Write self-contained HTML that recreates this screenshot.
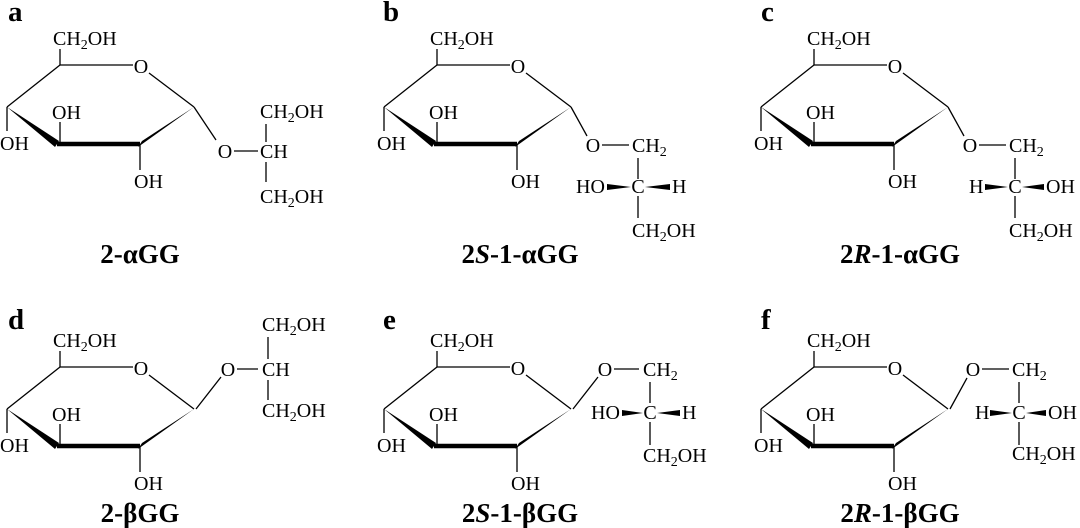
<!DOCTYPE html>
<html><head><meta charset="utf-8"><style>
html,body{margin:0;padding:0;background:#fff;}
svg{display:block;}
text{font-family:"Liberation Serif",serif;font-size:20px;fill:#000;}
.b{font-weight:bold;font-size:29px;}
.n{font-weight:bold;font-size:27px;}
line{stroke:#000;stroke-width:1.3;}
</style></head><body>
<svg width="1080" height="528" viewBox="0 0 1080 528" xmlns="http://www.w3.org/2000/svg">
<defs>
<g id="ring">
  <text x="53" y="45">CH<tspan font-size="14" dy="4">2</tspan><tspan dy="-4">OH</tspan></text>
  <line x1="60" y1="49" x2="60" y2="65"/>
  <line x1="60" y1="65" x2="133" y2="65"/>
  <text x="141" y="73" text-anchor="middle">O</text>
  <line x1="149" y1="73" x2="194" y2="107"/>
  <line x1="60" y1="65" x2="7" y2="107"/>
  <line x1="7" y1="107" x2="7" y2="131"/>
  <text x="0" y="150">OH</text>
  <polygon points="7,107 55,147 59,141"/>
  <line x1="57" y1="144" x2="140" y2="144" style="stroke-width:4.5"/>
  <line x1="60" y1="144" x2="60" y2="122"/>
  <text x="52" y="119">OH</text>
  <polygon points="138,147 142,141 194,107"/>
  <line x1="140" y1="144" x2="140" y2="170"/>
  <text x="134" y="188">OH</text>
</g>
</defs>
<text class="b" x="8" y="21">a</text>
<text class="b" x="383" y="21">b</text>
<text class="b" x="761" y="21">c</text>
<text class="b" x="8" y="329">d</text>
<text class="b" x="383" y="329">e</text>
<text class="b" x="761" y="329">f</text>
<text class="n" x="140" y="263" text-anchor="middle">2-αGG</text>
<text class="n" x="520" y="263" text-anchor="middle">2<tspan font-style="italic">S</tspan>-1-αGG</text>
<text class="n" x="900" y="263" text-anchor="middle">2<tspan font-style="italic">R</tspan>-1-αGG</text>
<text class="n" x="140" y="522" text-anchor="middle">2-βGG</text>
<text class="n" x="520" y="522" text-anchor="middle">2<tspan font-style="italic">S</tspan>-1-βGG</text>
<text class="n" x="900" y="522" text-anchor="middle">2<tspan font-style="italic">R</tspan>-1-βGG</text>

<g>
  <use href="#ring"/>
  <line x1="194" y1="107" x2="216" y2="140"/>
  <text x="225" y="158" text-anchor="middle">O</text>
  <line x1="234" y1="151" x2="258" y2="151"/>
  <text x="260" y="158">CH</text>
  <text x="260" y="118">CH<tspan font-size="14" dy="4">2</tspan><tspan dy="-4">OH</tspan></text>
  <line x1="266" y1="124" x2="266" y2="142"/>
  <line x1="266" y1="162" x2="266" y2="182"/>
  <text x="260" y="203">CH<tspan font-size="14" dy="4">2</tspan><tspan dy="-4">OH</tspan></text>
</g>
<g transform="translate(377,0)">
  <use href="#ring"/>
  <line x1="194" y1="107" x2="210" y2="136"/>
  <text x="216" y="152" text-anchor="middle">O</text>
  <line x1="225" y1="145" x2="252" y2="145"/>
  <text x="255" y="152">CH<tspan font-size="14" dy="4">2</tspan></text>
  <line x1="261" y1="158" x2="261" y2="179"/>
  <text x="261" y="193" text-anchor="middle">C</text>
  <text x="199" y="193">HO</text>
  <polygon points="254,187 230,184 230,190"/>
  <polygon points="268,187 293,184 293,190"/>
  <text x="295" y="193">H</text>
  <line x1="261" y1="196" x2="261" y2="218"/>
  <text x="255" y="237">CH<tspan font-size="14" dy="4">2</tspan><tspan dy="-4">OH</tspan></text>
</g>
<g transform="translate(754,0)">
  <use href="#ring"/>
  <line x1="194" y1="107" x2="210" y2="136"/>
  <text x="216" y="152" text-anchor="middle">O</text>
  <line x1="225" y1="145" x2="252" y2="145"/>
  <text x="255" y="152">CH<tspan font-size="14" dy="4">2</tspan></text>
  <line x1="261" y1="158" x2="261" y2="179"/>
  <text x="261" y="193" text-anchor="middle">C</text>
  <text x="215" y="193">H</text>
  <polygon points="254,187 231,184 231,190"/>
  <polygon points="268,187 290,184 290,190"/>
  <text x="292" y="193">OH</text>
  <line x1="261" y1="196" x2="261" y2="218"/>
  <text x="255" y="237">CH<tspan font-size="14" dy="4">2</tspan><tspan dy="-4">OH</tspan></text>
</g>
<g transform="translate(0,302)">
  <use href="#ring"/>
  <line x1="196" y1="107" x2="221" y2="75"/>
  <text x="228" y="74" text-anchor="middle">O</text>
  <line x1="237" y1="67" x2="258" y2="67"/>
  <text x="262" y="74">CH</text>
  <text x="262" y="29">CH<tspan font-size="14" dy="4">2</tspan><tspan dy="-4">OH</tspan></text>
  <line x1="268" y1="35" x2="268" y2="57"/>
  <line x1="268" y1="78" x2="268" y2="98"/>
  <text x="262" y="115">CH<tspan font-size="14" dy="4">2</tspan><tspan dy="-4">OH</tspan></text>
</g>
<g transform="translate(377,302)">
  <use href="#ring"/>
  <line x1="196" y1="107" x2="221" y2="75"/>
  <text x="228" y="74" text-anchor="middle">O</text>
  <line x1="237" y1="67" x2="262" y2="67"/>
  <text x="266" y="74">CH<tspan font-size="14" dy="4">2</tspan></text>
  <line x1="273" y1="80" x2="273" y2="101"/>
  <text x="273" y="117" text-anchor="middle">C</text>
  <text x="214" y="117">HO</text>
  <polygon points="266,111 245,108 245,114"/>
  <polygon points="280,111 303,108 303,114"/>
  <text x="305" y="117">H</text>
  <line x1="273" y1="120" x2="273" y2="143"/>
  <text x="266" y="160">CH<tspan font-size="14" dy="4">2</tspan><tspan dy="-4">OH</tspan></text>
</g>
<g transform="translate(754,302)">
  <use href="#ring"/>
  <line x1="196" y1="107" x2="213" y2="76"/>
  <text x="219" y="74" text-anchor="middle">O</text>
  <line x1="228" y1="67" x2="255" y2="67"/>
  <text x="258" y="74">CH<tspan font-size="14" dy="4">2</tspan></text>
  <line x1="265" y1="80" x2="265" y2="101"/>
  <text x="265" y="117" text-anchor="middle">C</text>
  <text x="221" y="117">H</text>
  <polygon points="258,111 236,108 236,114"/>
  <polygon points="272,111 292,108 292,114"/>
  <text x="294" y="117">OH</text>
  <line x1="265" y1="120" x2="265" y2="143"/>
  <text x="258" y="158">CH<tspan font-size="14" dy="4">2</tspan><tspan dy="-4">OH</tspan></text>
</g>
</svg>
</body></html>
